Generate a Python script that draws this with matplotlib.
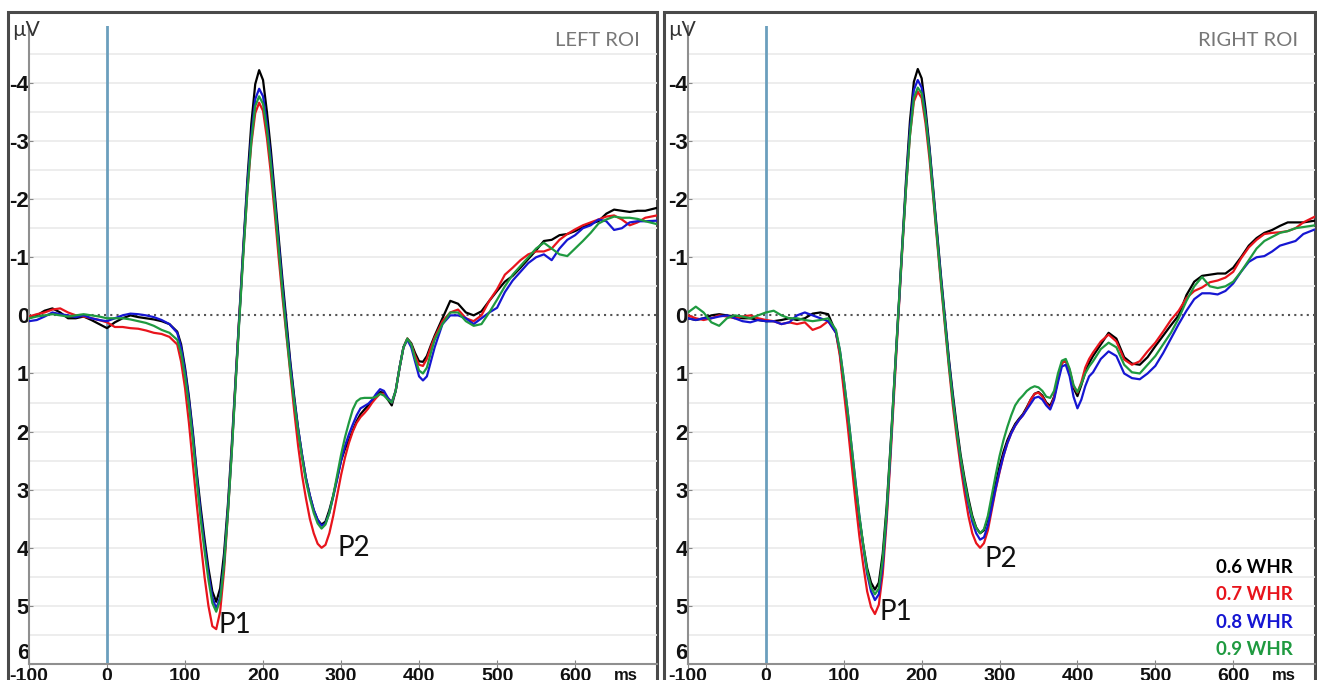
import numpy as np
import matplotlib
matplotlib.use("Agg")
import matplotlib.pyplot as plt
from matplotlib.patches import Rectangle
from matplotlib.font_manager import FontProperties

plt.rcParams['font.family'] = ['Lato', 'DejaVu Sans']

# ---------------- data ----------------
# sampling times (ms)
time_ms = list(range(-100, 91, 10)) + list(range(95, 421, 5)) + list(range(430, 691, 10)) + [705]

conditions = ["0.6 WHR", "0.7 WHR", "0.8 WHR", "0.9 WHR"]

# LEFT ROI (µV)
left_06 = [0.05, 0.0, -0.08, -0.12, -0.05, 0.05, 0.05, 0.02, 0.08, 0.15, 0.22, 0.12, 0.05, 0.0, 0.03, 0.05, 0.07, 0.1, 0.15, 0.28,
           0.5, 0.9, 1.4, 2.0, 2.7, 3.3, 3.85, 4.35, 4.75, 4.93,
           4.7, 4.1, 3.25, 2.2, 1.05, -0.1, -1.25, -2.35, -3.3, -3.98,
           -4.22, -4.05, -3.5, -2.85, -2.1, -1.35, -0.6, 0.1, 0.8, 1.4,
           1.95, 2.4, 2.8, 3.1, 3.35, 3.52, 3.6, 3.55, 3.35, 3.1,
           2.8, 2.5, 2.3, 2.15, 1.98, 1.82, 1.7, 1.62, 1.55, 1.48,
           1.38, 1.32, 1.33, 1.45, 1.55, 1.3, 0.9, 0.55, 0.4, 0.48,
           0.65, 0.79, 0.8, 0.7, 0.52, 0.35,
           0.05, -0.25, -0.2, -0.05, 0.0, -0.07, -0.25, -0.42, -0.58, -0.68,
           -0.82, -0.97, -1.12, -1.28, -1.3, -1.38, -1.4, -1.45, -1.52, -1.58,
           -1.62, -1.75, -1.82, -1.8, -1.78, -1.8, -1.8, -1.85]
left_07 = [0.02, -0.02, -0.05, -0.1, -0.12, -0.05, 0.0, 0.02, 0.05, 0.08, 0.12, 0.2, 0.2, 0.22, 0.23, 0.26, 0.3, 0.32, 0.37, 0.5,
           0.8, 1.25, 1.85, 2.55, 3.25, 3.9, 4.5, 5.0, 5.35, 5.4,
           5.1, 4.4, 3.4, 2.3, 1.1, -0.05, -1.15, -2.15, -2.95, -3.48,
           -3.66, -3.52, -3.05, -2.45, -1.75, -1.0, -0.3, 0.35, 1.0, 1.65,
           2.25, 2.75, 3.15, 3.5, 3.75, 3.93, 4.0, 3.95, 3.75, 3.45,
           3.1, 2.75, 2.45, 2.2, 2.0, 1.85, 1.75, 1.68, 1.6, 1.5,
           1.42, 1.35, 1.35, 1.42, 1.5, 1.3, 0.9, 0.55, 0.4, 0.5,
           0.7, 0.85, 0.87, 0.75, 0.55, 0.38,
           0.1, -0.05, -0.1, 0.05, 0.1, 0.0, -0.25, -0.45, -0.7, -0.82,
           -0.95, -1.05, -1.1, -1.1, -1.15, -1.3, -1.4, -1.48, -1.55, -1.6,
           -1.65, -1.7, -1.72, -1.65, -1.55, -1.6, -1.68, -1.72]
left_08 = [0.1, 0.08, 0.02, -0.05, -0.02, 0.0, 0.03, 0.0, 0.05, 0.08, 0.1, 0.05, 0.0, -0.03, -0.02, 0.0, 0.03, 0.08, 0.15, 0.3,
           0.55, 0.95, 1.45, 2.05, 2.75, 3.4, 3.95, 4.45, 4.85, 5.05,
           4.85, 4.25, 3.35, 2.3, 1.1, -0.05, -1.2, -2.25, -3.1, -3.72,
           -3.9, -3.77, -3.3, -2.7, -2.0, -1.25, -0.5, 0.2, 0.85, 1.45,
           1.95, 2.4, 2.8, 3.1, 3.35, 3.52, 3.62, 3.58, 3.4, 3.12,
           2.82, 2.5, 2.25, 2.05, 1.88, 1.72, 1.6, 1.56, 1.52, 1.45,
           1.35, 1.27, 1.3, 1.42, 1.5, 1.3, 0.9, 0.55, 0.42, 0.55,
           0.8, 1.05, 1.12, 1.05, 0.8, 0.55,
           0.15, 0.0, 0.0, 0.05, 0.15, 0.05, -0.05, -0.13, -0.4, -0.6,
           -0.75, -0.9, -1.0, -1.05, -0.95, -1.15, -1.3, -1.38, -1.5, -1.55,
           -1.65, -1.62, -1.47, -1.5, -1.6, -1.62, -1.62, -1.63]
left_09 = [0.05, 0.02, 0.0, -0.02, 0.0, 0.02, 0.0, -0.02, 0.0, 0.02, 0.05, 0.05, 0.05, 0.07, 0.1, 0.13, 0.18, 0.25, 0.3, 0.42,
           0.65, 1.05, 1.55, 2.15, 2.85, 3.5, 4.05, 4.55, 4.95, 5.1,
           4.9, 4.3, 3.4, 2.35, 1.15, 0.0, -1.1, -2.15, -3.0, -3.6,
           -3.77, -3.64, -3.2, -2.6, -1.9, -1.15, -0.4, 0.3, 0.95, 1.5,
           2.0, 2.45, 2.85, 3.15, 3.4, 3.58, 3.67, 3.6, 3.4, 3.1,
           2.75, 2.4, 2.1, 1.85, 1.62, 1.48, 1.43, 1.42, 1.42, 1.42,
           1.4, 1.35, 1.38, 1.45, 1.5, 1.3, 0.9, 0.55, 0.4, 0.5,
           0.75, 0.95, 1.0, 0.9, 0.65, 0.42,
           0.15, -0.05, -0.05, 0.1, 0.18, 0.15, -0.05, -0.27, -0.5, -0.7,
           -0.85, -1.0, -1.15, -1.25, -1.15, -1.05, -1.02, -1.15, -1.28, -1.42,
           -1.58, -1.65, -1.7, -1.68, -1.68, -1.66, -1.62, -1.57]

# RIGHT ROI (µV)
right_06 = [0.05, 0.08, 0.05, 0.0, -0.02, 0.0, 0.02, 0.05, 0.05, 0.08, 0.1, 0.1, 0.08, 0.05, 0.08, 0.05, -0.03, -0.05, -0.02, 0.3,
            0.65, 1.2, 1.75, 2.35, 2.95, 3.5, 3.95, 4.35, 4.6, 4.72,
            4.6, 4.1, 3.3, 2.25, 1.1, -0.05, -1.2, -2.35, -3.35, -4.02,
            -4.24, -4.08, -3.55, -2.9, -2.15, -1.4, -0.65, 0.05, 0.75, 1.35,
            1.9, 2.4, 2.8, 3.15, 3.45, 3.65, 3.75, 3.7, 3.5, 3.2,
            2.9, 2.6, 2.35, 2.15, 2.0, 1.87, 1.78, 1.7, 1.58, 1.45,
            1.35, 1.32, 1.38, 1.5, 1.56, 1.4, 1.1, 0.82, 0.78, 0.95,
            1.25, 1.39, 1.2, 0.98, 0.82, 0.7,
            0.5, 0.3, 0.4, 0.72, 0.83, 0.85, 0.72, 0.53, 0.35, 0.17,
            0.0, -0.35, -0.58, -0.68, -0.7, -0.72, -0.72, -0.82, -1.0, -1.2,
            -1.33, -1.42, -1.47, -1.54, -1.6, -1.6, -1.6, -1.63]
right_07 = [0.0, 0.05, 0.08, 0.05, 0.0, 0.02, 0.05, 0.02, 0.0, 0.05, 0.08, 0.1, 0.15, 0.12, 0.15, 0.12, 0.25, 0.2, 0.1, 0.3,
            0.7, 1.3, 1.9, 2.55, 3.2, 3.8, 4.3, 4.75, 5.02, 5.14,
            4.98, 4.45, 3.55, 2.45, 1.25, 0.05, -1.1, -2.2, -3.1, -3.68,
            -3.85, -3.74, -3.3, -2.7, -2.0, -1.25, -0.5, 0.2, 0.9, 1.55,
            2.1, 2.6, 3.05, 3.45, 3.75, 3.92, 4.0, 3.92, 3.7, 3.35,
            3.0, 2.7, 2.42, 2.2, 2.03, 1.9, 1.8, 1.72, 1.6, 1.45,
            1.35, 1.33, 1.4, 1.52, 1.6, 1.42, 1.1, 0.82, 0.78, 0.95,
            1.22, 1.33, 1.15, 0.9, 0.75, 0.64,
            0.45, 0.33, 0.45, 0.76, 0.85, 0.79, 0.62, 0.47, 0.28, 0.08,
            -0.08, -0.3, -0.42, -0.48, -0.57, -0.6, -0.65, -0.75, -0.98, -1.17,
            -1.3, -1.4, -1.42, -1.43, -1.45, -1.5, -1.6, -1.7]
right_08 = [0.05, 0.08, 0.05, 0.05, 0.02, 0.0, 0.05, 0.1, 0.12, 0.08, 0.1, 0.1, 0.15, 0.12, 0.0, -0.05, 0.0, 0.05, 0.1, 0.3,
            0.6, 1.1, 1.65, 2.25, 2.85, 3.45, 3.98, 4.45, 4.75, 4.9,
            4.8, 4.3, 3.45, 2.35, 1.15, 0.0, -1.15, -2.25, -3.2, -3.88,
            -4.05, -3.92, -3.45, -2.85, -2.1, -1.35, -0.6, 0.1, 0.8, 1.42,
            1.98, 2.48, 2.9, 3.25, 3.55, 3.75, 3.86, 3.82, 3.62, 3.3,
            2.98, 2.68, 2.42, 2.2, 2.03, 1.9, 1.8, 1.72, 1.62, 1.52,
            1.42, 1.4, 1.45, 1.55, 1.62, 1.45, 1.15, 0.88, 0.85, 1.05,
            1.4, 1.6, 1.45, 1.22, 1.05, 0.98,
            0.75, 0.62, 0.7, 1.0, 1.08, 1.1, 1.0, 0.87, 0.65, 0.4,
            0.15, -0.08, -0.28, -0.38, -0.38, -0.36, -0.42, -0.55, -0.75, -0.92,
            -1.0, -1.02, -1.1, -1.2, -1.24, -1.28, -1.4, -1.48]
right_09 = [-0.05, -0.15, -0.05, 0.12, 0.18, 0.05, 0.0, 0.02, 0.05, 0.0, -0.05, -0.08, 0.0, 0.05, 0.05, 0.08, 0.1, 0.08, 0.05, 0.25,
            0.6, 1.1, 1.65, 2.25, 2.88, 3.45, 3.95, 4.4, 4.68, 4.8,
            4.7, 4.2, 3.38, 2.3, 1.12, -0.02, -1.15, -2.2, -3.1, -3.74,
            -3.92, -3.82, -3.4, -2.8, -2.05, -1.3, -0.55, 0.15, 0.85, 1.45,
            2.0, 2.45, 2.85, 3.2, 3.48, 3.66, 3.75, 3.68, 3.45, 3.1,
            2.75, 2.42, 2.15, 1.92, 1.72, 1.55, 1.45, 1.38, 1.3, 1.25,
            1.22, 1.24, 1.3, 1.4, 1.42, 1.3, 1.0, 0.78, 0.75, 0.92,
            1.2, 1.32, 1.18, 1.0, 0.88, 0.79,
            0.58, 0.47, 0.55, 0.85, 0.98, 1.0, 0.85, 0.7, 0.5, 0.3,
            0.05, -0.25, -0.5, -0.66, -0.5, -0.47, -0.5, -0.58, -0.75, -0.95,
            -1.15, -1.28, -1.35, -1.42, -1.45, -1.5, -1.52, -1.55]

x_ticks = [-100, 0, 100, 200, 300, 400, 500, 600]
y_ticks = [-4, -3, -2, -1, 0, 1, 2, 3, 4, 5, 6]
panel_titles = ["LEFT ROI", "RIGHT ROI"]

colors = ["#000000", "#e8141c", "#1616d2", "#1f9a40"]

# ---------------- figure ----------------
W, H = 1317, 680
fig = plt.figure(figsize=(W / 100, H / 100), dpi=100)

panels = [
    dict(frame_x0=8, frame_x1=657, ax_x0=29, ax_x1=657,
         series=[left_06, left_07, left_08, left_09], title=panel_titles[0],
         labels=[("P1", 143, 5.33), ("P2", 295, 4.0)], legend=False),
    dict(frame_x0=664, frame_x1=1315, ax_x0=688, ax_x1=1315,
         series=[right_06, right_07, right_08, right_09], title=panel_titles[1],
         labels=[("P1", 146, 5.1), ("P2", 281, 4.2)], legend=True),
]

ax_bottom_px = 664
ax_top_px = 26

for p in panels:
    # outer frame
    fig.add_artist(Rectangle((p["frame_x0"] / W, -0.05),
                             (p["frame_x1"] - p["frame_x0"]) / W, 1.05 - 12 / H,
                             transform=fig.transFigure, fill=False,
                             edgecolor="#4a4a4a", linewidth=2.2, zorder=0))
    ax = fig.add_axes([p["ax_x0"] / W, (H - ax_bottom_px) / H,
                       (p["ax_x1"] - p["ax_x0"]) / W, (ax_bottom_px - ax_top_px) / H])
    ax.set_facecolor("none")
    ax.set_xlim(-100, 705)
    ax.set_ylim(6, -4.98)

    # grid lines every 0.5 µV
    for g in np.arange(-4.5, 6.0, 0.5):
        if abs(g) > 1e-9:
            ax.axhline(g, color="#ececec", lw=1.3, zorder=1)
    ax.axhline(0, color="#555555", ls=(0, (1, 2)), lw=1.5, zorder=2)
    ax.axvline(0, color="#6b9fbd", lw=2, zorder=2)

    order = [1, 3, 2, 0]
    for i in order:
        ax.plot(time_ms, p["series"][i], color=colors[i], lw=1.6,
                solid_joinstyle="round", solid_capstyle="round", zorder=3 + i * 0.1)

    for s, tx, ty in p["labels"]:
        ax.text(tx, ty, s, fontsize=20, color="#111111", ha="left", va="center", zorder=5)

    ax.set_xticks(x_ticks)
    ax.set_xticklabels([str(v) for v in x_ticks])
    ax.set_yticks(y_ticks)
    ax.set_yticklabels([str(v) for v in y_ticks])
    ax.tick_params(axis="y", direction="in", length=3, pad=0, colors="#888888", labelcolor="#111111")
    ax.tick_params(axis="x", direction="inout", length=6, pad=0, colors="#888888", labelcolor="#111111")
    for lbl in ax.get_yticklabels():
        lbl.set_fontproperties(FontProperties(family="Liberation Sans", weight="bold", size=16))
    for lbl in ax.get_xticklabels():
        lbl.set_fontproperties(FontProperties(family="Liberation Sans", weight="bold", size=14))
    ax.get_yticklabels()[-1].set_va("bottom")
    for side in ["top", "right"]:
        ax.spines[side].set_visible(False)
    for side in ["left", "bottom"]:
        ax.spines[side].set_color("#8f8f8f")
        ax.spines[side].set_linewidth(1.5)

    ax.annotate("ms", xy=(665, 6), xytext=(0, -3), textcoords="offset points",
                ha="center", va="top", color="#111111",
                fontproperties=FontProperties(family="Liberation Sans", weight="bold", size=12),
                annotation_clip=False)

    fig.text((p["frame_x0"] + 4) / W, 1 - 30 / H, "µV", fontsize=15, color="#333333",
             ha="left", va="center")
    fig.text((p["frame_x1"] - 17) / W, 1 - 40 / H, p["title"], fontsize=14.5,
             color="#777777", ha="right", va="center")

    if p["legend"]:
        for k, (lab, c) in enumerate(zip(conditions, colors)):
            ax.text(676, 4.34 + k * 0.47, lab, color=c, fontsize=13.5, fontweight="bold",
                    ha="right", va="center", zorder=6)

fig.savefig("out.png", dpi=100)
